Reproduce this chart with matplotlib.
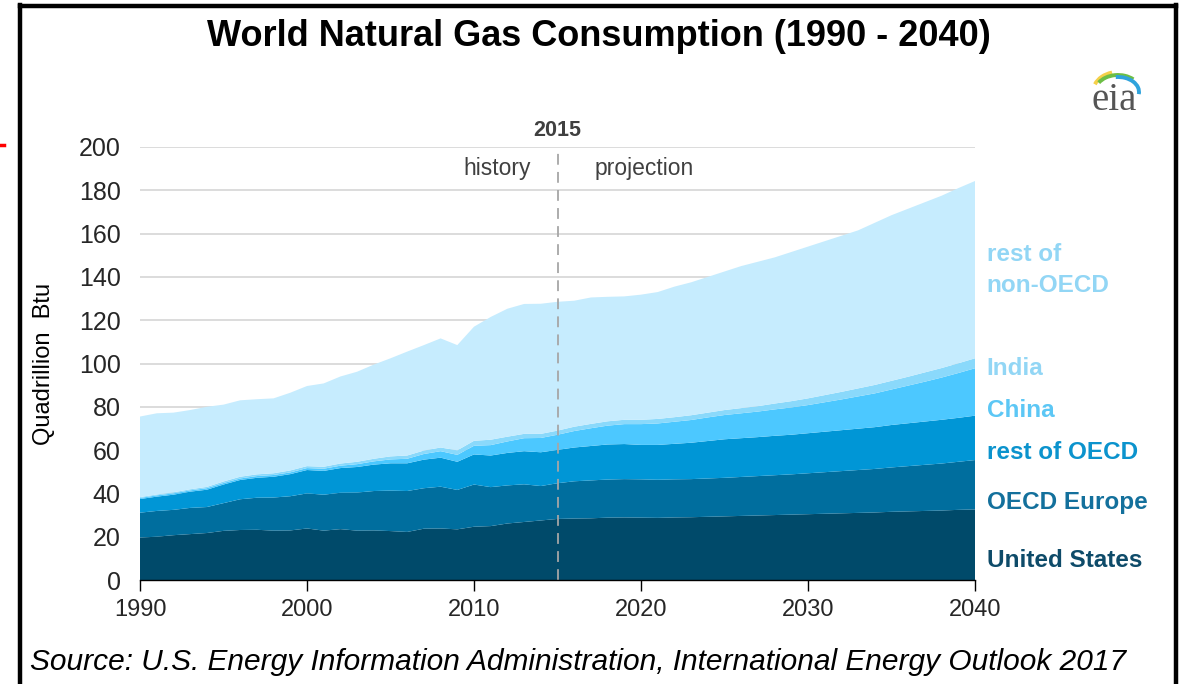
import matplotlib
matplotlib.use("Agg")
import matplotlib.pyplot as plt
from matplotlib.lines import Line2D
from matplotlib.patches import Arc

plt.rcParams['font.family'] = ['Liberation Sans', 'DejaVu Sans']

years = list(range(1990, 2041))

united_states = [19.6, 20.0, 20.7, 21.2, 21.7, 22.7, 23.1, 23.2, 22.8, 22.9,
                 23.8, 22.8, 23.5, 22.8, 22.9, 22.6, 22.2, 23.7, 23.8, 23.4,
                 24.6, 24.9, 26.1, 26.8, 27.5, 28.2, 28.4, 28.5, 28.8, 28.9,
                 28.8, 28.7, 28.9, 29.0, 29.2, 29.4, 29.6, 29.8, 30.0, 30.2,
                 30.4, 30.6, 30.8, 31.0, 31.2, 31.5, 31.7, 31.9, 32.1, 32.4, 32.6]
oecd_europe = [11.5, 11.9, 11.7, 12.1, 12.0, 12.8, 14.2, 14.8, 15.3, 15.8,
               16.2, 16.6, 16.8, 17.6, 18.2, 18.7, 18.9, 18.7, 19.3, 18.2,
               19.5, 18.0, 17.6, 17.4, 15.9, 16.5, 17.2, 17.5, 17.6, 17.7,
               17.7, 17.6, 17.6, 17.6, 17.7, 17.8, 18.0, 18.2, 18.4, 18.6,
               18.9, 19.2, 19.5, 19.8, 20.1, 20.5, 20.9, 21.3, 21.7, 22.2, 22.8]
rest_of_oecd = [6.3, 6.6, 7.0, 7.5, 8.0, 8.6, 8.9, 9.2, 9.6, 10.2,
                10.8, 11.0, 11.4, 11.8, 12.2, 12.6, 12.8, 13.2, 13.4, 13.0,
                13.9, 14.6, 15.0, 15.3, 15.6, 15.4, 15.6, 15.9, 16.2, 16.2,
                15.9, 16.1, 16.4, 16.8, 17.3, 17.8, 17.9, 18.0, 18.2, 18.3,
                18.5, 18.7, 18.9, 19.1, 19.3, 19.6, 19.8, 20.0, 20.2, 20.3, 20.5]
china = [0.5, 0.6, 0.6, 0.6, 0.7, 0.7, 0.7, 0.8, 0.8, 0.8,
         0.9, 1.0, 1.1, 1.3, 1.5, 1.8, 2.1, 2.6, 3.0, 3.2,
         4.0, 4.8, 5.3, 6.0, 6.6, 7.0, 7.6, 8.2, 8.7, 9.2,
         9.6, 9.9, 10.2, 10.5, 10.9, 11.2, 11.5, 11.8, 12.2, 12.6,
         13.0, 13.6, 14.2, 14.9, 15.6, 16.4, 17.4, 18.4, 19.5, 20.7, 21.9]
india = [0.4, 0.4, 0.5, 0.5, 0.6, 0.7, 0.8, 0.8, 0.8, 0.9,
         0.9, 0.9, 1.0, 1.1, 1.2, 1.4, 1.5, 1.6, 1.7, 2.1,
         2.3, 2.5, 2.2, 2.0, 1.9, 1.9, 2.0, 2.0, 2.0, 2.0,
         2.0, 2.1, 2.1, 2.2, 2.2, 2.3, 2.4, 2.5, 2.7, 2.9,
         3.1, 3.3, 3.5, 3.7, 3.9, 4.0, 4.1, 4.3, 4.4, 4.5, 4.6]
rest_of_non_oecd = [37.2, 37.5, 36.8, 36.6, 37.0, 35.5, 35.3, 34.7, 34.6, 35.9,
                    37.0, 38.5, 40.2, 41.6, 43.5, 45.3, 48.0, 48.7, 50.4, 48.6,
                    52.7, 56.7, 59.1, 60.0, 60.1, 59.5, 58.2, 58.4, 57.5, 57.0,
                    57.8, 58.6, 60.3, 61.4, 62.7, 64.0, 65.6, 66.7, 67.5, 68.9,
                    70.1, 71.1, 72.1, 73.0, 74.9, 76.5, 77.6, 78.6, 79.6, 80.9, 81.9]

series_labels = ["United States", "OECD Europe", "rest of OECD", "China", "India",
                 "rest of\nnon-OECD"]
fill_colors = ["#004A6A", "#006E9E", "#0096D6", "#4CC8FF", "#8AD9FB", "#C6ECFE"]
label_colors = ["#0E4B69", "#13709C", "#0B93CD", "#5CC7F5", "#92D6F5", "#92D6F5"]
label_y = [9.2, 36.0, 59.1, 78.5, 97.5, 143.2]

y_ticks = list(range(0, 201, 20))
x_ticks = [1990, 2000, 2010, 2020, 2030, 2040]
divider_year = 2015

W, H = 1183, 684
fig = plt.figure(figsize=(W / 100, H / 100), dpi=100)
ax = fig.add_axes([140 / W, 1 - 580 / H, 835 / W, 433 / H])

ax.stackplot(years, united_states, oecd_europe, rest_of_oecd, china, india,
             rest_of_non_oecd, colors=fill_colors, linewidth=0, zorder=2)

ax.set_xlim(1990, 2040)
ax.set_ylim(0, 200)
ax.set_yticks(y_ticks)
ax.set_xticks(x_ticks)
ax.grid(axis='y', color='#D9D9D9', linewidth=1.3, zorder=0)
ax.set_axisbelow(True)
for s in ['top', 'right', 'left']:
    ax.spines[s].set_visible(False)
ax.spines['bottom'].set_color('#000000')
ax.spines['bottom'].set_linewidth(1.0)
ax.spines['bottom'].set_zorder(5)
ax.tick_params(axis='y', length=0, pad=14, labelsize=18, labelcolor='#262626')
ax.tick_params(axis='x', length=8, width=1.0, direction='out', pad=6,
               labelsize=17, labelcolor='#262626')
ax.set_ylabel("Quadrillion  Btu", fontsize=17, color='#000000')
ax.yaxis.set_label_coords(-(140 - 55) / 835, 0.5)

ax.axvline(divider_year, ymin=0, ymax=1, color='#A6A6A6', linewidth=1.3,
           linestyle=(0, (6, 4)), zorder=4)
ax.text(divider_year, 207.5, "2015", ha='center', va='center', fontsize=15.5,
        fontweight='bold', color='#404040')
ax.text(divider_year - 1.6, 190, "history", ha='right', va='center', fontsize=16.5,
        color='#404040')
ax.text(divider_year + 2.2, 190, "projection", ha='left', va='center', fontsize=16.5,
        color='#404040')

for lab, col, yv in zip(series_labels, label_colors, label_y):
    ax.text(2040.7, yv, lab, ha='left', va='center', fontsize=17.5, fontweight='bold',
            color=col, linespacing=1.45, clip_on=False)

fig.text(599 / W, 1 - 37 / H, "World Natural Gas Consumption (1990 - 2040)",
         ha='center', va='center', fontsize=26, fontweight='bold', color='#000000')
fig.text(30 / W, 1 - 662 / H,
         "Source: U.S. Energy Information Administration, International Energy Outlook 2017",
         ha='left', va='center', fontsize=21.5, style='italic', color='#000000')

# eia logo
fig.text(1114 / W, 1 - 101 / H, "eia", ha='center', va='center', fontsize=28,
         family='Liberation Serif', color='#555555')
for (w, h, c, t1, t2) in [(50, 40, '#F5D04A', 100, 150), (46, 34, '#6DBE45', 55, 140),
                          (42, 30, '#2FA3DC', -10, 95)]:
    arc = Arc((1118 / W, 1 - 92 / H), w / W, h / H, theta1=t1, theta2=t2,
              transform=fig.transFigure, color=c, linewidth=2.8)
    fig.add_artist(arc)

# frame
lw = 3.2
fig.add_artist(Line2D([19.5 / W, 19.5 / W], [0, 1 - 5 / H], color='black', linewidth=lw,
                      transform=fig.transFigure))
fig.add_artist(Line2D([19.5 / W, 1175.5 / W], [1 - 5.5 / H, 1 - 5.5 / H], color='black',
                      linewidth=lw, transform=fig.transFigure))
fig.add_artist(Line2D([1175.5 / W, 1175.5 / W], [0, 1 - 5 / H], color='black', linewidth=lw,
                      transform=fig.transFigure))
fig.add_artist(Line2D([0, 4 / W], [1 - 144.5 / H, 1 - 144.5 / H], color='red', linewidth=2.5,
                      transform=fig.transFigure))

fig.savefig("out.png", dpi=100)
